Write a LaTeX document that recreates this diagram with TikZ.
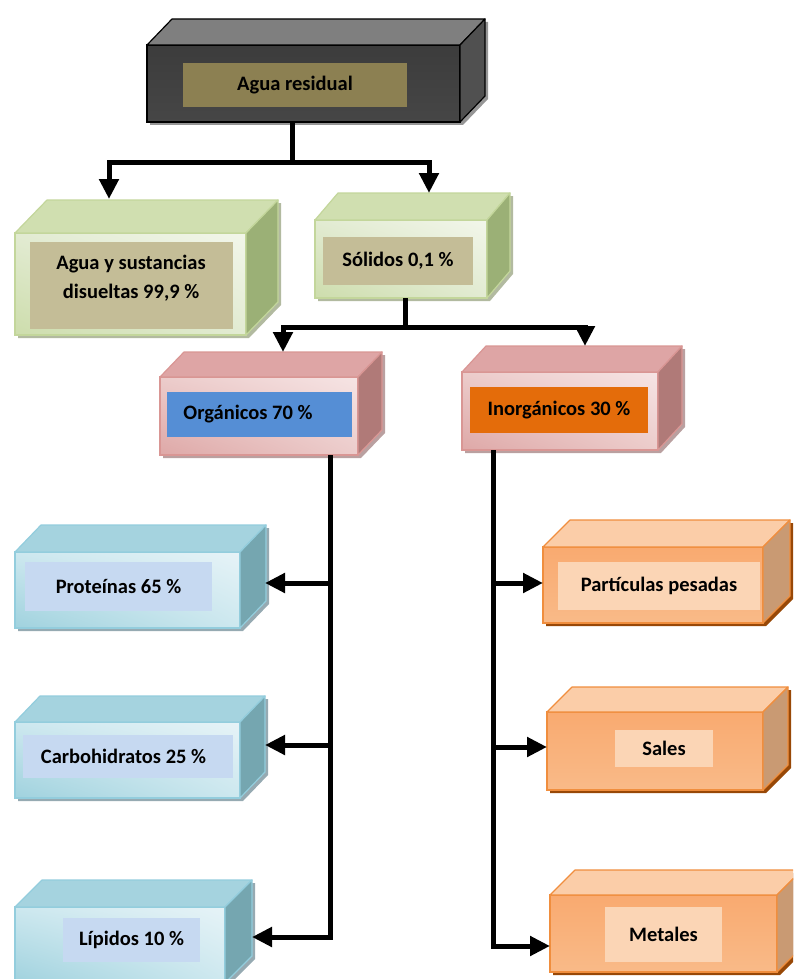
\documentclass[tikz,border=0pt]{standalone}
\usepackage{fontspec}
\setmainfont{Carlito}
\usetikzlibrary{calc,arrows.meta,shadings}

% black box
\definecolor{blkT}{RGB}{127,127,127}
\definecolor{blkS}{RGB}{80,80,80}
\definecolor{blkF1}{RGB}{60,60,60}
\definecolor{blkF2}{RGB}{0,0,0}
\definecolor{blkF3}{RGB}{70,70,70}
\definecolor{blkSh}{RGB}{150,150,150}
\definecolor{olive}{RGB}{140,128,82}
% green
\definecolor{grnT}{RGB}{208,223,176}
\definecolor{grnS}{RGB}{155,176,118}
\definecolor{grnF}{RGB}{205,221,172}
\definecolor{grnH}{RGB}{242,246,234}
\definecolor{grnM}{RGB}{226,235,210}
\definecolor{grnB}{RGB}{195,214,155}
\definecolor{grnSh}{RGB}{178,186,160}
\definecolor{tan}{RGB}{196,189,151}
% pink
\definecolor{pnkT}{RGB}{222,165,165}
\definecolor{pnkS}{RGB}{176,122,120}
\definecolor{pnkF}{RGB}{222,168,167}
\definecolor{pnkH}{RGB}{246,228,228}
\definecolor{pnkM}{RGB}{236,204,203}
\definecolor{pnkB}{RGB}{217,150,148}
\definecolor{pnkSh}{RGB}{186,160,160}
\definecolor{lblue}{RGB}{85,142,213}
\definecolor{dorange}{RGB}{228,108,10}
% blue
\definecolor{bluT}{RGB}{165,211,223}
\definecolor{bluS}{RGB}{117,166,176}
\definecolor{bluF}{RGB}{160,210,222}
\definecolor{bluH}{RGB}{230,243,247}
\definecolor{bluM}{RGB}{205,232,239}
\definecolor{bluB}{RGB}{147,205,221}
\definecolor{bluSh}{RGB}{150,170,178}
\definecolor{pblue}{RGB}{198,217,241}
% orange
\definecolor{ornT}{RGB}{251,205,168}
\definecolor{ornS}{RGB}{201,154,115}
\definecolor{ornF1}{RGB}{249,170,112}
\definecolor{ornF2}{RGB}{246,146,64}
\definecolor{ornF3}{RGB}{249,186,136}
\definecolor{ornB}{RGB}{240,142,62}
\definecolor{ornSh}{RGB}{152,72,7}
\definecolor{peach}{RGB}{251,213,181}

\tikzset{
  face/.style={line width=1.2pt, outer sep=0pt, inner sep=0pt},
  blkfront/.style={face, draw=black, top color=blkF1, middle color=blkF2, bottom color=blkF3},
  blktop/.style={fill=blkT, draw=black, line width=1.2pt, line join=round},
  blkside/.style={fill=blkS, draw=black, line width=1.2pt, line join=round},
  blkshadow/.style={fill=blkSh},
  grnfront/.style={face, draw=grnB, lower left=grnF, upper right=grnH, upper left=grnM, lower right=grnM},
  grntop/.style={fill=grnT, draw=grnB, line width=1.2pt, line join=round},
  grnside/.style={fill=grnS, draw=grnB, line width=1.2pt, line join=round},
  grnshadow/.style={fill=grnSh},
  pnkfront/.style={face, draw=pnkB, lower left=pnkF, upper right=pnkH, upper left=pnkM, lower right=pnkM},
  pnktop/.style={fill=pnkT, draw=pnkB, line width=1.2pt, line join=round},
  pnkside/.style={fill=pnkS, draw=pnkB, line width=1.2pt, line join=round},
  pnkshadow/.style={fill=pnkSh},
  blufront/.style={face, draw=bluB, lower left=bluF, upper right=bluH, upper left=bluM, lower right=bluM},
  blutop/.style={fill=bluT, draw=bluB, line width=1.2pt, line join=round},
  bluside/.style={fill=bluS, draw=bluB, line width=1.2pt, line join=round},
  blushadow/.style={fill=bluSh},
  ornfront/.style={face, draw=ornB, top color=ornF1, middle color=ornF2, bottom color=ornF3},
  orntop/.style={fill=ornT, draw=ornB, line width=1.2pt, line join=round},
  ornside/.style={fill=ornS, draw=ornB, line width=1.2pt, line join=round},
  ornshadow/.style={fill=ornSh},
  lab/.style={inner sep=0pt, outer sep=0pt, font=\fontsize{20.5}{25}\selectfont\bfseries, text=black},
  txt/.style={inner sep=0pt, outer sep=0pt, font=\fontsize{20.5}{29}\selectfont\bfseries, text=black, align=center},
  wire/.style={line width=5pt, line join=miter},
  conn/.style={line width=5pt, line join=miter, -{Triangle[width=19pt,length=20pt]}},
}

% #1 name, #2 x1, #3 y1, #4 x2, #5 y2, #6 dx, #7 dy, #8 colour prefix
\newcommand{\cubebox}[8]{%
  \fill[#8shadow] ({#2+3},{#5+3}) -- ({#2+3},{#3+3}) -- ({#2+#6+3},{#3-#7+3})
     -- ({#4+#6+3},{#3-#7+3}) -- ({#4+#6+3},{#5-#7+3}) -- ({#4+3},{#5+3}) -- cycle;
  \node[#8front, minimum width={#4-#2}, minimum height={#5-#3}] (#1) at ({(#2+#4)/2},{(#3+#5)/2}) {};
  \filldraw[#8top] (#1.north west) -- ++(#6,-#7) -- ($(#1.north east)+(#6,-#7)$) -- (#1.north east) -- cycle;
  \filldraw[#8side] (#1.north east) -- ++(#6,-#7) -- ($(#1.south east)+(#6,-#7)$) -- (#1.south east) -- cycle;
}
% #1 name, #2 x1, #3 y1, #4 x2, #5 y2, #6 colour, #7 text
\newcommand{\labbox}[7]{%
  \node[lab, fill=#6, minimum width={#4-#2}, minimum height={#5-#3}] (#1) at ({(#2+#4)/2},{(#3+#5)/2}) {#7};
}

\begin{document}
\begin{tikzpicture}[x=1pt,y=-1pt]
\useasboundingbox (0,0) rectangle (793,979);
\clip (0,0) rectangle (793,979);

% boxes
\cubebox{res}{147}{45}{460}{122}{25}{26}{blk}
\labbox{resL}{183}{63}{407}{107}{olive}{Agua residual}

\cubebox{agua}{15}{233}{246}{335}{32}{33}{grn}
\labbox{aguaL}{30}{242}{233}{329}{tan}{}
\node[txt] (aguaT) at (131,278.5) {Agua y sustancias\\disueltas 99,9 \%};

\cubebox{sol}{315}{220}{487}{298}{23}{27}{grn}
\labbox{solL}{323}{237}{473}{285}{tan}{Sólidos 0,1 \%}

\cubebox{org}{160}{377}{358}{455}{24}{25}{pnk}
\labbox{orgL}{167}{392}{352}{437}{lblue}{}
\node[txt] (orgT) at (248,414.5) {Orgánicos 70 \%};

\cubebox{inorg}{462}{372}{658}{450}{24}{26}{pnk}
\labbox{inorgL}{470}{387}{648}{433}{dorange}{Inorgánicos 30 \%}

\cubebox{prot}{15}{552}{240}{628}{26}{27}{blu}
\labbox{protL}{25}{562}{212}{611}{pblue}{Proteínas 65 \%}

\cubebox{carb}{15}{722}{240}{798}{25}{26}{blu}
\labbox{carbL}{23}{735}{233}{778}{pblue}{}
\node[txt] (carbT) at (123.5,756.5) {Carbohidratos 25 \%};

\cubebox{lip}{15}{907}{225}{983}{27}{27}{blu}
\labbox{lipL}{63}{918}{200}{962}{pblue}{Lípidos 10 \%}

\cubebox{part}{543}{547}{763}{623}{27}{27}{orn}
\labbox{partL}{558}{562}{760}{610}{peach}{Partículas pesadas}

\cubebox{sales}{547}{712}{763}{790}{25}{25}{orn}
\labbox{salesL}{615}{730}{713}{767}{peach}{Sales}

\cubebox{met}{550}{895}{777}{972}{25}{25}{orn}
\labbox{metL}{605}{907}{722}{962}{peach}{Metales}

% connector points
\coordinate (j1) at (292,162);
\coordinate (tAgua) at (109,199);
\coordinate (tSol) at (429,193);
\coordinate (j2) at (405,327);
\coordinate (tOrg) at (283,352);
\coordinate (tInorg) at (585,346);
\coordinate (cO) at (330,937);
\coordinate (tProt) at (265,583);
\coordinate (tCarb) at (265,745);
\coordinate (tLip) at (252,937);
\coordinate (cI) at (493,946);
\coordinate (tPart) at (543,583);
\coordinate (tSales) at (547,747);
\coordinate (tMet) at (550,946);

% connectors
\draw[wire] (res.south -| j1) -- (j1);
\draw[conn] (j1) -| (tAgua);
\draw[conn] (j1) -| (tSol);

\draw[wire] (sol.south -| j2) -- (j2);
\draw[conn] (j2) -| (tOrg);
\draw[conn] (j2) -| (tInorg);

\draw[conn] (org.south -| cO) |- (tLip);
\draw[conn] (cO |- tProt) -- (tProt);
\draw[conn] (cO |- tCarb) -- (tCarb);

\draw[conn] (inorg.south -| cI) |- (tMet);
\draw[conn] (cI |- tPart) -- (tPart);
\draw[conn] (cI |- tSales) -- (tSales);
\end{tikzpicture}
\end{document}
